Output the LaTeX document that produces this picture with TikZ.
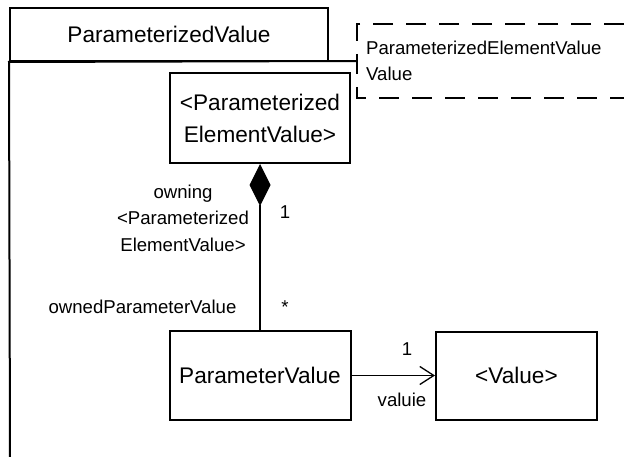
\documentclass[tikz,border=0pt]{standalone}
\usepackage{fontspec}
\setmainfont{Liberation Sans}
\usetikzlibrary{arrows.meta}

\begin{document}
\begin{tikzpicture}[x=1pt,y=-1pt,
  classbox/.style={draw,line width=2pt,align=center,inner sep=0pt,font=\fontsize{22.6}{32}\selectfont},
  rolelbl/.style={inner sep=0pt,font=\fontsize{18.6}{26.5}\selectfont},
  notedash/.style={line width=1.3pt,dash pattern=on 20pt off 13pt},
  conn/.style={line width=1.3pt}]
\useasboundingbox (0,0) rectangle (624,457);
% package tab, body edges and the dashed parameter note
\node[classbox,minimum width=318pt,minimum height=53pt] (tab) at (169,34.5) {ParameterizedValue};
\coordinate (pkgfoot) at (10,457);
\node[rolelbl,align=left,anchor=west,inner xsep=9pt] (note) at (357,61) {ParameterizedElementValue\\Value};
\draw[line width=2pt] (pkgfoot) -- (tab.south west) -- (note.west);
\draw[notedash] ([xshift=267pt,yshift=37pt]note.west) -| ([yshift=-37pt]note.west) -- ++(267,0);
% classes
\node[classbox,minimum width=180pt,minimum height=90pt] (pev) at (260,118) {<Parameterized\\ElementValue>};
\node[classbox,minimum width=181pt,minimum height=89pt] (pv) at (260,375.5) {ParameterValue};
\node[classbox,minimum width=161pt,minimum height=88pt] (val) at (516.5,375.5) {<Value>};
% composition and association
\draw[conn,-{Diamond[length=42pt,width=21pt]}] (pv.north) -- (pev.south);
\draw[conn,-{Straight Barb[length=14pt,width=18pt]}] (pv.east) -- (val.west);
\node[rolelbl,align=center] (ownrole) at (183,218) {owning\\<Parameterized\\ElementValue>};
\node[rolelbl,anchor=base] (owncard) at (285,219) {1};
\node[rolelbl,anchor=base] (ownedrole) at (142.5,313) {ownedParameterValue};
\node[rolelbl,anchor=base] (ownedcard) at (285,313) {*};
\node[rolelbl,anchor=base] (valcard) at (407,355) {1};
\node[rolelbl,anchor=base] (valrole) at (402,406) {valuie};
\end{tikzpicture}
\end{document}
